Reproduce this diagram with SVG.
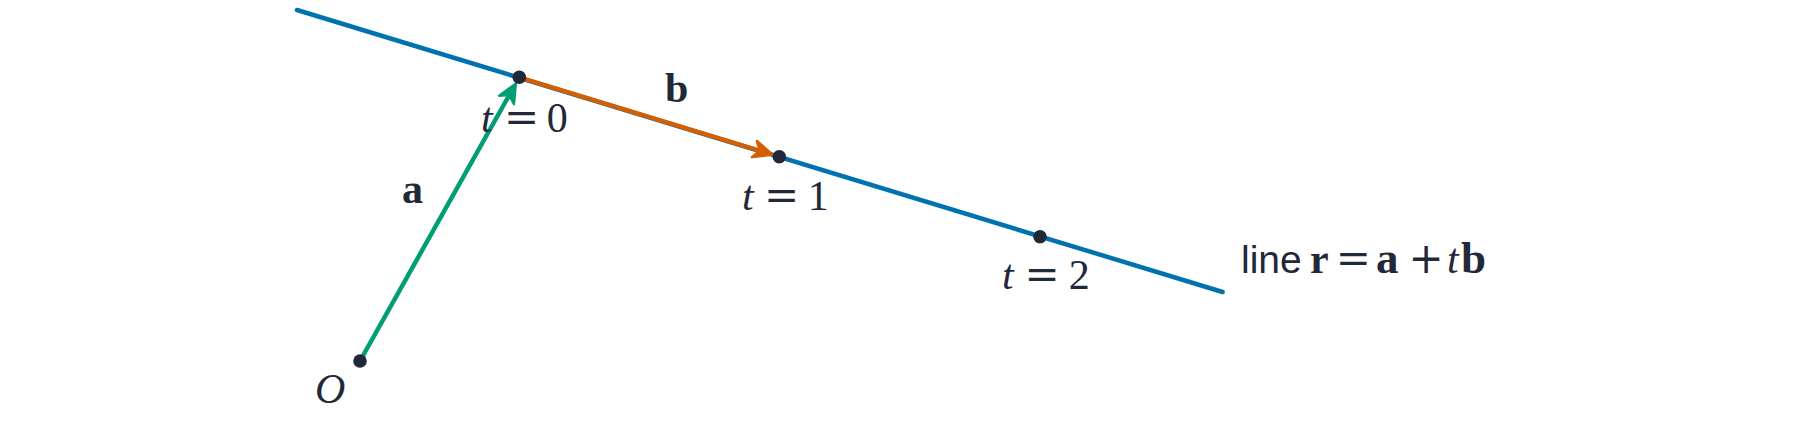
<svg xmlns="http://www.w3.org/2000/svg" xmlns:xlink="http://www.w3.org/1999/xlink" width="1800" height="425" viewBox="0 0 1800 425">
<style>
.ln{fill:none;stroke-width:4.5;stroke-linecap:round}
.dot{fill:#1f2937}
.tx{font-family:"Liberation Serif","DejaVu Serif",serif;font-size:42px;fill:#1f2937}
.it{font-style:italic}
.bf{font-weight:bold}
.op{font-family:"DejaVu Serif","Liberation Serif",serif;font-weight:normal}
.sf{font-family:"Liberation Sans","DejaVu Sans",sans-serif;font-size:39px}
</style>
<defs>
<path id="ah" d="M0,0 L-19,-8.5 L-13.5,0 L-19,8.5 Z" stroke-linejoin="round" stroke-width="2.4"/>
</defs>
<rect width="1800" height="425" fill="#ffffff"/>
<g id="connectors">
<line id="line-r" class="ln" stroke="#0072B2" x1="297" y1="10" x2="1222.6" y2="292"/>
<line id="vec-b" class="ln" stroke="#D55E00" x1="519.3" y1="77.3" x2="760" y2="150.8"/>
<use xlink:href="#ah" href="#ah" fill="#D55E00" stroke="#D55E00" transform="translate(772.6,154.6) rotate(16.98)"/>
<line id="vec-a" class="ln" stroke="#009E73" x1="360" y1="361" x2="509.4" y2="94.8"/>
<use xlink:href="#ah" href="#ah" fill="#009E73" stroke="#009E73" transform="translate(515.9,83.4) rotate(-60.68)"/>
</g>
<g id="node-O">
<circle class="dot" cx="360" cy="361" r="6.8"/>
<text class="tx it" x="315" y="403">O</text>
</g>
<g id="node-t0">
<circle class="dot" cx="519.3" cy="77.3" r="6.8"/>
<text class="tx" y="132"><tspan class="it" x="481">t</tspan><tspan class="op" x="504">=</tspan><tspan x="546.8">0</tspan></text>
</g>
<g id="node-t1">
<circle class="dot" cx="779.3" cy="156.7" r="6.8"/>
<text class="tx" y="210"><tspan class="it" x="742">t</tspan><tspan class="op" x="764">=</tspan><tspan x="807.8">1</tspan></text>
</g>
<g id="node-t2">
<circle class="dot" cx="1040" cy="236.7" r="6.8"/>
<text class="tx" y="289"><tspan class="it" x="1002">t</tspan><tspan class="op" x="1024.6">=</tspan><tspan x="1068.7">2</tspan></text>
</g>
<g id="label-a">
<text class="tx bf" x="402" y="203">a</text>
</g>
<g id="label-b">
<text class="tx bf" x="665" y="101.7">b</text>
</g>
<g id="label-line">
<text class="tx" y="273"><tspan class="sf" x="1241">line</tspan><tspan class="bf" x="1310">r</tspan><tspan class="op" x="1335.7">=</tspan><tspan class="bf" x="1376" font-size="45">a</tspan><tspan class="op" x="1408.6">+</tspan><tspan class="it" x="1447">t</tspan><tspan class="bf" x="1461" font-size="45">b</tspan></text>
</g>
</svg>
